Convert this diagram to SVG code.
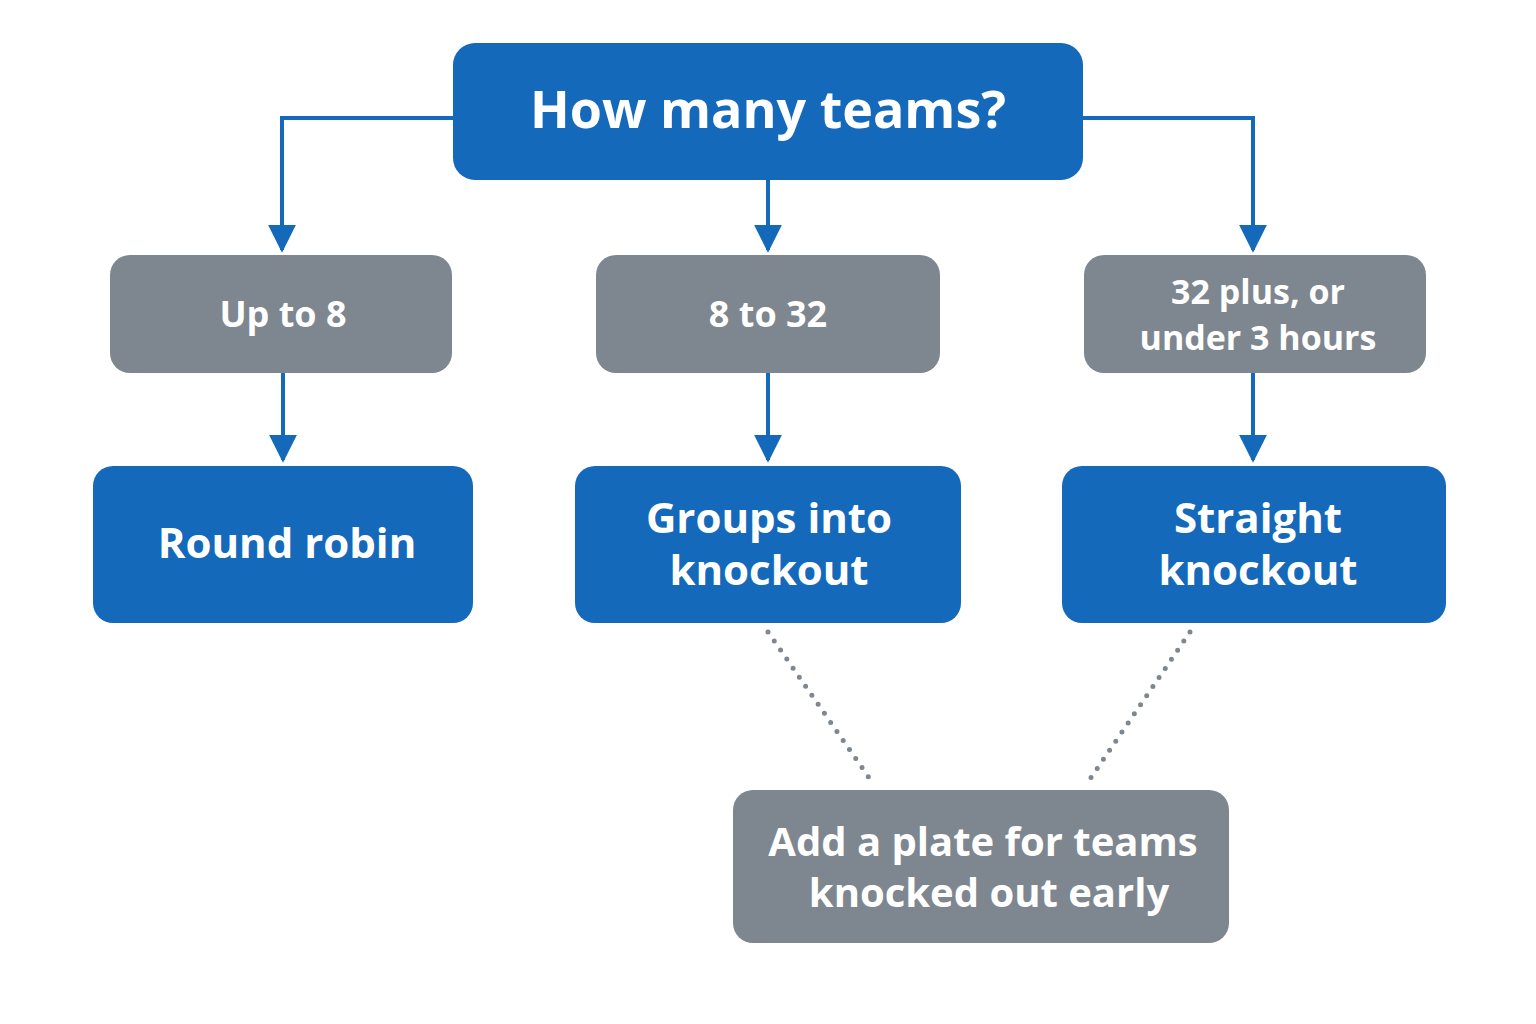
<svg xmlns="http://www.w3.org/2000/svg" width="1536" height="1024" viewBox="0 0 1536 1024">
<style>
.b{fill:#1469BA}.g{fill:#7E868F}
text{font-family:"Open Sans","Liberation Sans",sans-serif;font-weight:700;fill:#fff;text-anchor:middle}
.c{fill:none;stroke:#1469BA;stroke-width:4}
.d{fill:none;stroke:#7E868F;stroke-width:5;stroke-linecap:round;stroke-dasharray:0 11}
</style>
<defs><marker id="a" viewBox="0 0 10 10" refX="10" refY="5" markerWidth="7" markerHeight="7" markerUnits="userSpaceOnUse" orient="auto"><path d="M0,0L10,5L0,10z" fill="#1469BA" transform="scale(1)"/></marker>
<marker id="m" viewBox="0 0 10 10" refX="9" refY="5" markerWidth="7" markerHeight="7" orient="auto"><path d="M0,0L10,5L0,10z" fill="#1469BA"/></marker></defs>
<rect width="1536" height="1024" fill="#fff"/>
<g id="connectors">
<path class="c" d="M453,118H282V250" marker-end="url(#m)"/>
<path class="c" d="M768,180V250" marker-end="url(#m)"/>
<path class="c" d="M1083,118H1253V250" marker-end="url(#m)"/>
<path class="c" d="M283,373V460" marker-end="url(#m)"/>
<path class="c" d="M768,373V460" marker-end="url(#m)"/>
<path class="c" d="M1253,373V460" marker-end="url(#m)"/>
<path class="d" d="M768,632L872,782"/>
<path class="d" d="M1190,632L1088,782"/>
</g>
<g id="top"><rect class="b" x="453" y="43" width="630" height="137" rx="22"/><text x="768" y="128" font-size="52">How many teams?</text></g>
<g id="g1"><rect class="g" x="110" y="255" width="342" height="118" rx="20"/><text x="283" y="327" font-size="36">Up to 8</text></g>
<g id="g2"><rect class="g" x="596" y="255" width="344" height="118" rx="20"/><text x="768" y="327" font-size="36">8 to 32</text></g>
<g id="g3"><rect class="g" x="1084" y="255" width="342" height="118" rx="20"/><text x="1258" y="304" font-size="34">32 plus, or</text><text x="1258" y="350" font-size="34">under 3 hours</text></g>
<g id="b1"><rect class="b" x="93" y="466" width="380" height="157" rx="20"/><text x="287" y="558" font-size="42">Round robin</text></g>
<g id="b2"><rect class="b" x="575" y="466" width="386" height="157" rx="20"/><text x="769" y="533" font-size="42">Groups into</text><text x="769" y="585" font-size="42">knockout</text></g>
<g id="b3"><rect class="b" x="1062" y="466" width="384" height="157" rx="20"/><text x="1258" y="533" font-size="42">Straight</text><text x="1258" y="585" font-size="42">knockout</text></g>
<g id="plate"><rect class="g" x="733" y="790" width="496" height="153" rx="20"/><text x="983" y="856" font-size="40">Add a plate for teams</text><text x="989" y="907" font-size="40">knocked out early</text></g>
</svg>
